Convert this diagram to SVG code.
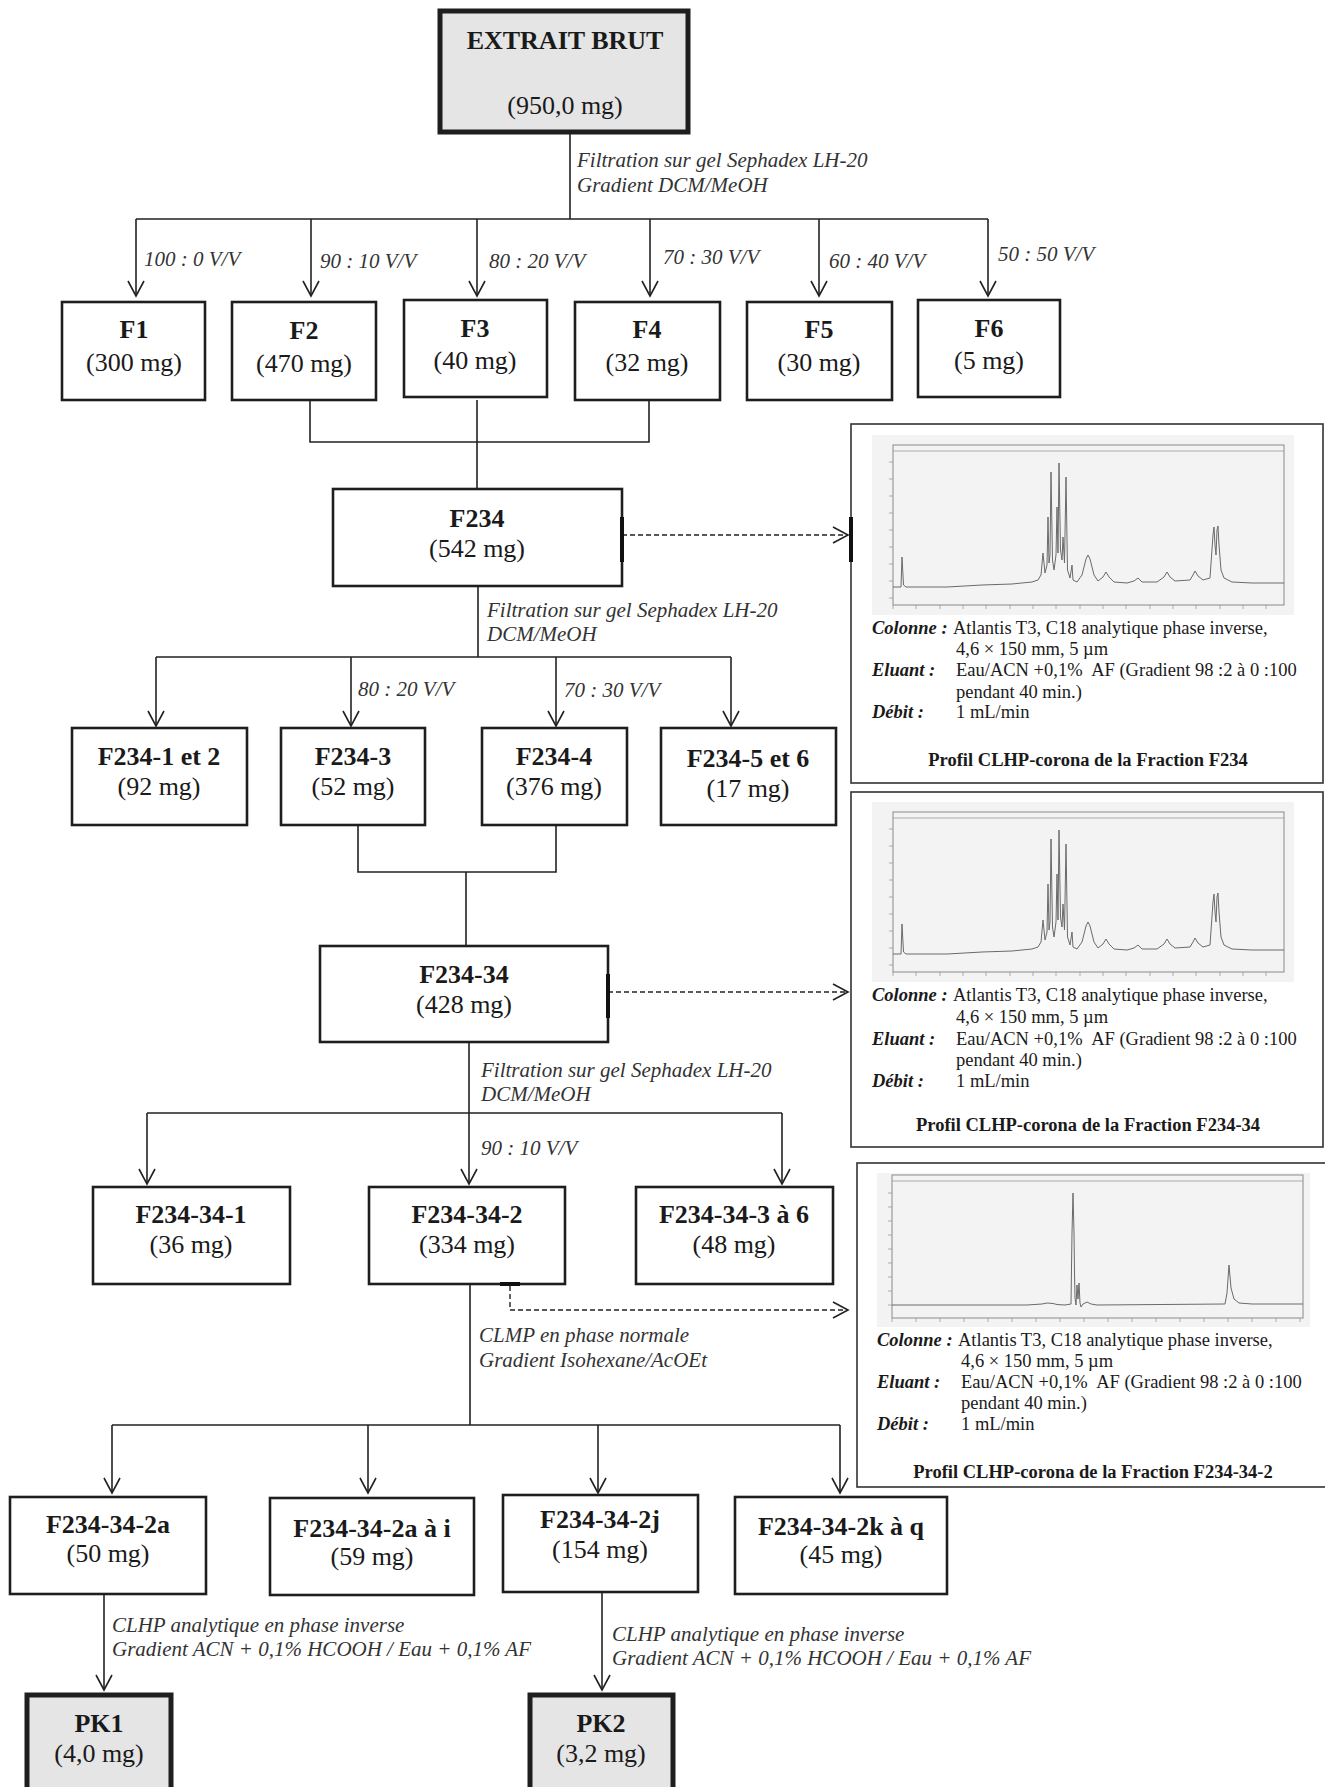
<svg xmlns="http://www.w3.org/2000/svg" xmlns:xlink="http://www.w3.org/1999/xlink" width="1325" height="1787" viewBox="0 0 1325 1787">
<style>
text{font-family:"Liberation Serif","Times New Roman",serif;fill:#1a1a1a}
.t{font-size:26px;text-anchor:middle}
.tb{font-size:26px;text-anchor:middle;font-weight:bold}
.lbl{font-size:21px;font-style:italic;fill:#333}
.box{fill:#fff;stroke:#1e1e1e;stroke-width:2.6}
.main{fill:#e5e5e5;stroke:#1e1e1e;stroke-width:5}
.conn{stroke:#222;stroke-width:1.6;fill:none}
.arr{marker-end:url(#ah)}
.dash{stroke:#222;stroke-width:1.4;fill:none;stroke-dasharray:5 3}
.bar{fill:#111}
.panel{fill:#fff;stroke:#333;stroke-width:1.6}
.ct{font-size:18.5px}
.cb{font-size:18.5px;font-weight:bold;font-style:italic}
.ch{font-size:18.5px;font-weight:bold;text-anchor:middle}
.cbg{fill:#f3f3f3}
.cfr{fill:none;stroke:#8a8a8a;stroke-width:1}
.ctk{stroke:#999;stroke-width:0.8}
.tr{fill:none;stroke:#6a6a6a;stroke-width:1}
</style>
<defs>
<marker id="ah" viewBox="-16 -10 18 20" refX="0" refY="0" markerWidth="18" markerHeight="20" markerUnits="userSpaceOnUse" orient="auto" overflow="visible">
<path d="M-15,-8 L0,0 L-15,8" fill="none" stroke="#222" stroke-width="1.6"/>
</marker>
<g id="chartA">
<rect class="cbg" x="0" y="0" width="422" height="180"/>
<rect class="cfr" x="21" y="10" width="391" height="160"/>
<line class="ctk" x1="21" y1="16" x2="412" y2="16"/>
<path class="ctk" d="M17,27H21M17,44H21M17,61H21M17,78H21M17,95H21M17,112H21M17,129H21M17,146H21M17,163H21M21,170V174M44,170V174M68,170V174M91,170V174M114,170V174M138,170V174M161,170V174M184,170V174M208,170V174M231,170V174M254,170V174M278,170V174M301,170V174M324,170V174M348,170V174M371,170V174M394,170V174"/>
<path class="tr" d="M21,152 L29,152 L30,122 L31.5,150 L34,152 L75,152 L110,150 L140,149 L160,147 L166,145 L169,140 L171,118 L173,138 L175,130 L176,82 L177,128 L178,120 L179,37 L180.5,125 L182,135 L184,120 L185,72 L186,118 L187,28 L188.5,115 L190,125 L191,102 L192.5,128 L194,42 L195.5,135 L198,143 L200,130 L201,145 L205,147 L210,140 L214,124 L216,120 L218,124 L222,140 L226,146 L231,142 L234,137 L237,142 L242,147 L255,148 L262,146 L266,143 L270,147 L285,147 L292,142 L295,137 L298,142 L303,146 L318,145 L321,140 L323,136 L326,141 L331,145 L338,143 L341,100 L342,92 L343,110 L344,120 L345,95 L346,91 L347,110 L349,135 L352,143 L360,147 L380,148 L412,148"/>
</g>
<g id="chartB">
<rect class="cbg" x="0" y="0" width="433" height="154"/>
<rect class="cfr" x="15" y="2" width="411" height="143"/>
<line class="ctk" x1="15" y1="8" x2="426" y2="8"/>
<path class="ctk" d="M11,20H15M11,34H15M11,48H15M11,62H15M11,76H15M11,90H15M11,104H15M11,118H15M11,132H15M15,145V149M39,145V149M63,145V149M87,145V149M111,145V149M135,145V149M159,145V149M183,145V149M207,145V149M231,145V149M255,145V149M279,145V149M303,145V149M327,145V149M351,145V149M375,145V149M399,145V149M423,145V149"/>
<path class="tr" d="M15,132 L150,132 L165,131 L170,130 L176,130.5 L180,131.5 L188,132 L194,131 L195,60 L196,20 L197,60 L197.5,100 L198,125 L199,132 L200,112 L201,126 L202,110 L203,130 L204,134 L206,131 L210,129 L214,131 L220,132 L348,131 L350,120 L352,92 L354,115 L357,126 L362,130 L375,131 L426,131"/>
</g>
</defs>
<rect width="1325" height="1787" fill="#fff"/>

<g id="connectors">
<path class="conn" d="M570,134 V219 M136,219 H988"/>
<path class="conn arr" d="M136,219 V296"/>
<path class="conn arr" d="M311,219 V296"/>
<path class="conn arr" d="M477,219 V296"/>
<path class="conn arr" d="M650,219 V296"/>
<path class="conn arr" d="M819,219 V296"/>
<path class="conn arr" d="M988,219 V296"/>
<path class="conn" d="M310,400 V442 H649 V400 M477,400 V489"/>
<path class="conn" d="M478,586 V657 M156,657 H731"/>
<path class="conn arr" d="M156,657 V726"/>
<path class="conn arr" d="M351,657 V726"/>
<path class="conn arr" d="M556,657 V726"/>
<path class="conn arr" d="M731,657 V726"/>
<path class="conn" d="M358,825 V872 H556 V825 M466,872 V946"/>
<path class="conn" d="M469,1042 V1113 M147,1113 H782"/>
<path class="conn arr" d="M147,1113 V1184"/>
<path class="conn arr" d="M469,1113 V1184"/>
<path class="conn arr" d="M782,1113 V1184"/>
<path class="conn" d="M470,1284 V1425 M112,1425 H840"/>
<path class="conn arr" d="M112,1425 V1493"/>
<path class="conn arr" d="M368,1425 V1493"/>
<path class="conn arr" d="M598,1425 V1493"/>
<path class="conn arr" d="M840,1425 V1493"/>
<path class="conn arr" d="M104,1594 V1690"/>
<path class="conn arr" d="M602,1592 V1690"/>
<path class="dash arr" d="M622,535 H848"/>
<path class="dash arr" d="M608,992 H848"/>
<path class="dash arr" d="M510,1286 V1310 H848"/>
<text class="lbl" x="577" y="167">Filtration sur gel Sephadex LH-20</text>
<text class="lbl" x="577" y="192">Gradient DCM/MeOH</text>
<text class="lbl" x="144" y="266">100 : 0 V/V</text>
<text class="lbl" x="320" y="268">90 : 10 V/V</text>
<text class="lbl" x="489" y="268">80 : 20 V/V</text>
<text class="lbl" x="663" y="264">70 : 30 V/V</text>
<text class="lbl" x="829" y="268">60 : 40 V/V</text>
<text class="lbl" x="998" y="261">50 : 50 V/V</text>
<text class="lbl" x="487" y="617">Filtration sur gel Sephadex LH-20</text>
<text class="lbl" x="487" y="641">DCM/MeOH</text>
<text class="lbl" x="358" y="696">80 : 20 V/V</text>
<text class="lbl" x="564" y="697">70 : 30 V/V</text>
<text class="lbl" x="481" y="1077">Filtration sur gel Sephadex LH-20</text>
<text class="lbl" x="481" y="1101">DCM/MeOH</text>
<text class="lbl" x="481" y="1155">90 : 10 V/V</text>
<text class="lbl" x="479" y="1342">CLMP en phase normale</text>
<text class="lbl" x="479" y="1367">Gradient Isohexane/AcOEt</text>
<text class="lbl" x="112" y="1632">CLHP analytique en phase inverse</text>
<text class="lbl" x="112" y="1656">Gradient ACN + 0,1% HCOOH / Eau + 0,1% AF</text>
<text class="lbl" x="612" y="1641">CLHP analytique en phase inverse</text>
<text class="lbl" x="612" y="1665">Gradient ACN + 0,1% HCOOH / Eau + 0,1% AF</text>
</g>

<g id="n-extrait"><rect class="main" x="440" y="11" width="248" height="121"/><text class="tb" x="565" y="49">EXTRAIT BRUT</text><text class="t" x="565" y="114">(950,0 mg)</text></g>

<g id="n-F1"><rect class="box" x="62" y="302" width="143" height="98"/><text class="tb" x="134" y="338">F1</text><text class="t" x="134" y="371">(300 mg)</text></g>
<g id="n-F2"><rect class="box" x="232" y="302" width="144" height="98"/><text class="tb" x="304" y="339">F2</text><text class="t" x="304" y="372">(470 mg)</text></g>
<g id="n-F3"><rect class="box" x="404" y="300" width="143" height="97"/><text class="tb" x="475" y="337">F3</text><text class="t" x="475" y="369">(40 mg)</text></g>
<g id="n-F4"><rect class="box" x="575" y="302" width="145" height="98"/><text class="tb" x="647" y="338">F4</text><text class="t" x="647" y="371">(32 mg)</text></g>
<g id="n-F5"><rect class="box" x="747" y="302" width="145" height="98"/><text class="tb" x="819" y="338">F5</text><text class="t" x="819" y="371">(30 mg)</text></g>
<g id="n-F6"><rect class="box" x="918" y="300" width="142" height="97"/><text class="tb" x="989" y="337">F6</text><text class="t" x="989" y="369">(5 mg)</text></g>

<g id="n-F234"><rect class="box" x="333" y="489" width="289" height="97"/><rect class="bar" x="620" y="517" width="4" height="45"/><text class="tb" x="477" y="527">F234</text><text class="t" x="477" y="557">(542 mg)</text></g>

<g id="n-F234-1"><rect class="box" x="72" y="728" width="175" height="97"/><text class="tb" x="159" y="765">F234-1 et 2</text><text class="t" x="159" y="795">(92 mg)</text></g>
<g id="n-F234-3"><rect class="box" x="281" y="728" width="144" height="97"/><text class="tb" x="353" y="765">F234-3</text><text class="t" x="353" y="795">(52 mg)</text></g>
<g id="n-F234-4"><rect class="box" x="482" y="728" width="145" height="97"/><text class="tb" x="554" y="765">F234-4</text><text class="t" x="554" y="795">(376 mg)</text></g>
<g id="n-F234-5"><rect class="box" x="661" y="728" width="175" height="97"/><text class="tb" x="748" y="767">F234-5 et 6</text><text class="t" x="748" y="797">(17 mg)</text></g>

<g id="n-F234-34"><rect class="box" x="320" y="946" width="288" height="96"/><rect class="bar" x="606" y="974" width="4" height="44"/><text class="tb" x="464" y="983">F234-34</text><text class="t" x="464" y="1013">(428 mg)</text></g>

<g id="n-F234-34-1"><rect class="box" x="93" y="1187" width="197" height="97"/><text class="tb" x="191" y="1223">F234-34-1</text><text class="t" x="191" y="1253">(36 mg)</text></g>
<g id="n-F234-34-2"><rect class="box" x="369" y="1187" width="196" height="97"/><rect class="bar" x="500" y="1282" width="20" height="4"/><text class="tb" x="467" y="1223">F234-34-2</text><text class="t" x="467" y="1253">(334 mg)</text></g>
<g id="n-F234-34-3"><rect class="box" x="636" y="1187" width="197" height="97"/><text class="tb" x="734" y="1223">F234-34-3 à 6</text><text class="t" x="734" y="1253">(48 mg)</text></g>

<g id="n-2a"><rect class="box" x="10" y="1497" width="196" height="97"/><text class="tb" x="108" y="1533">F234-34-2a</text><text class="t" x="108" y="1562">(50 mg)</text></g>
<g id="n-2ai"><rect class="box" x="270" y="1498" width="204" height="97"/><text class="tb" x="372" y="1537">F234-34-2a à i</text><text class="t" x="372" y="1565">(59 mg)</text></g>
<g id="n-2j"><rect class="box" x="503" y="1495" width="195" height="97"/><text class="tb" x="600" y="1528">F234-34-2j</text><text class="t" x="600" y="1558">(154 mg)</text></g>
<g id="n-2kq"><rect class="box" x="735" y="1497" width="212" height="97"/><text class="tb" x="841" y="1535">F234-34-2k à q</text><text class="t" x="841" y="1563">(45 mg)</text></g>

<g id="n-PK1"><rect class="main" x="27" y="1695" width="144" height="110"/><text class="tb" x="99" y="1732">PK1</text><text class="t" x="99" y="1762">(4,0 mg)</text></g>
<g id="n-PK2"><rect class="main" x="530" y="1695" width="143" height="110"/><text class="tb" x="601" y="1732">PK2</text><text class="t" x="601" y="1762">(3,2 mg)</text></g>

<g id="n-profil-F234">
<rect class="panel" x="851" y="424" width="472" height="359"/>
<rect class="bar" x="849" y="517" width="4" height="45"/>
<use xlink:href="#chartA" x="872" y="435"/>
<text class="cb" x="872" y="634">Colonne :</text><text class="ct" x="953" y="634">Atlantis T3, C18 analytique phase inverse,</text>
<text class="ct" x="956" y="655">4,6 × 150 mm, 5 µm</text>
<text class="cb" x="872" y="676">Eluant :</text><text class="ct" x="956" y="676">Eau/ACN +0,1% <tspan dx="5">AF (Gradient 98 :2 à 0 :100</tspan></text>
<text class="ct" x="956" y="698">pendant 40 min.)</text>
<text class="cb" x="872" y="718">Débit :</text><text class="ct" x="956" y="718">1 mL/min</text>
<text class="ch" x="1088" y="766">Profil CLHP-corona de la Fraction F234</text>
</g>

<g id="n-profil-F234-34">
<rect class="panel" x="851" y="792" width="472" height="355"/>
<use xlink:href="#chartA" x="872" y="802"/>
<text class="cb" x="872" y="1001">Colonne :</text><text class="ct" x="953" y="1001">Atlantis T3, C18 analytique phase inverse,</text>
<text class="ct" x="956" y="1023">4,6 × 150 mm, 5 µm</text>
<text class="cb" x="872" y="1045">Eluant :</text><text class="ct" x="956" y="1045">Eau/ACN +0,1% <tspan dx="5">AF (Gradient 98 :2 à 0 :100</tspan></text>
<text class="ct" x="956" y="1066">pendant 40 min.)</text>
<text class="cb" x="872" y="1087">Débit :</text><text class="ct" x="956" y="1087">1 mL/min</text>
<text class="ch" x="1088" y="1131">Profil CLHP-corona de la Fraction F234-34</text>
</g>

<g id="n-profil-F234-34-2">
<rect class="panel" x="857" y="1163" width="470" height="324"/>
<use xlink:href="#chartB" x="877" y="1173"/>
<text class="cb" x="877" y="1346">Colonne :</text><text class="ct" x="958" y="1346">Atlantis T3, C18 analytique phase inverse,</text>
<text class="ct" x="961" y="1367">4,6 × 150 mm, 5 µm</text>
<text class="cb" x="877" y="1388">Eluant :</text><text class="ct" x="961" y="1388">Eau/ACN +0,1% <tspan dx="5">AF (Gradient 98 :2 à 0 :100</tspan></text>
<text class="ct" x="961" y="1409">pendant 40 min.)</text>
<text class="cb" x="877" y="1430">Débit :</text><text class="ct" x="961" y="1430">1 mL/min</text>
<text class="ch" x="1093" y="1478">Profil CLHP-corona de la Fraction F234-34-2</text>
</g>
</svg>
